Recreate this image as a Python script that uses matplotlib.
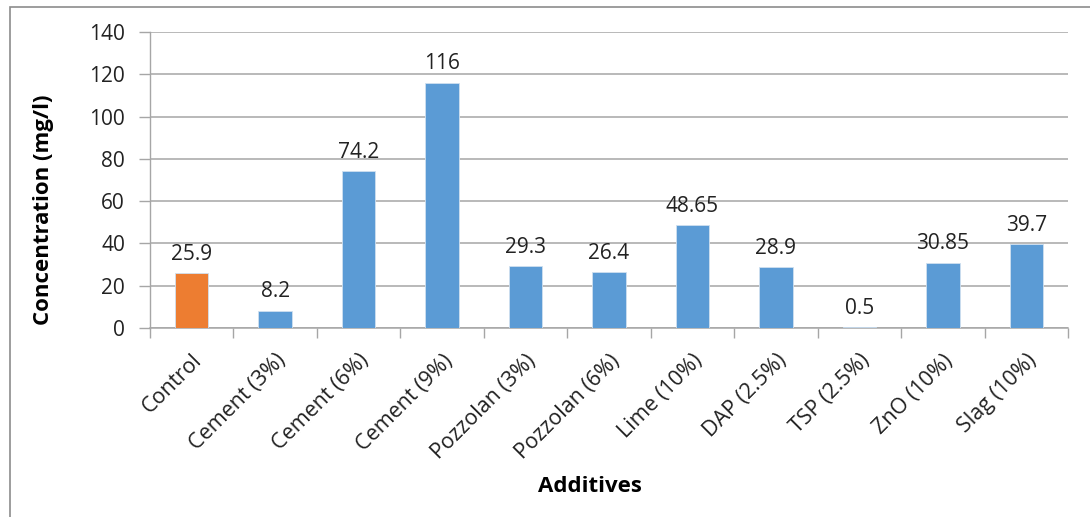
import matplotlib.pyplot as plt
from matplotlib.patches import Rectangle

# concentrations per additive treatment
additives = ['Control', 'Cement (3%)', 'Cement (6%)', 'Cement (9%)', 'Pozzolan (3%)',
             'Pozzolan (6%)', 'Lime (10%)', 'DAP (2.5%)', 'TSP (2.5%)', 'ZnO (10%)', 'Slag (10%)']
concentration = [25.9, 8.2, 74.2, 116, 29.3, 26.4, 48.65, 28.9, 0.5, 30.85, 39.7]
value_labels = ['25.9', '8.2', '74.2', '116', '29.3', '26.4', '48.65', '28.9', '0.5', '30.85', '39.7']
y_ticks = [0, 20, 40, 60, 80, 100, 120, 140]

plt.rcParams['font.family'] = ['Open Sans', 'DejaVu Sans']

fig = plt.figure(figsize=(10.9, 5.17), dpi=100)
ax = fig.add_axes([150 / 1090, 1 - 328 / 517, (1068 - 150) / 1090, (328 - 32) / 517])

colors = ['#ED7D31'] + ['#5B9BD5'] * (len(additives) - 1)
x = list(range(len(additives)))
bars = ax.bar(x, concentration, width=0.4, color=colors, edgecolor='#cfe0f0', linewidth=0.6, zorder=3)

for xi, val, lab in zip(x, concentration, value_labels):
    ax.annotate(lab, (xi, val), xytext=(0, 6), textcoords='offset points',
                ha='center', va='bottom', fontsize=15, color='#222222')

ax.set_xlim(-0.5, len(additives) - 0.5)
ax.set_ylim(0, 140)
ax.set_yticks(y_ticks)
ax.tick_params(axis='y', length=8, width=1, color='#a6a6a6', labelsize=15, labelcolor='#222222', pad=10)
ax.yaxis.grid(True, color='#a6a6a6', linewidth=1.1, zorder=0)
ax.set_axisbelow(True)

# category ticks sit between bars
ax.set_xticks([i - 0.5 for i in range(len(additives) + 1)], minor=True)
ax.set_xticks(x)
ax.set_xticklabels(additives, rotation=45, ha='right', va='top', rotation_mode='anchor',
                   fontsize=15.5, color='#222222')
ax.tick_params(axis='x', which='major', length=0, pad=16)
ax.tick_params(axis='x', which='minor', length=7, width=1, color='#a6a6a6')

for side in ['top', 'right']:
    ax.spines[side].set_visible(False)
ax.spines['left'].set_color('#a6a6a6')
ax.spines['bottom'].set_color('#a6a6a6')
ax.spines['left'].set_linewidth(1)
ax.spines['bottom'].set_linewidth(1.1)

fig.text(44 / 1090, 1 - 210 / 517, 'Concentration (mg/l)', rotation=90, ha='center', va='center',
         fontsize=16, fontweight='bold')
fig.text(590 / 1090, 1 - 486 / 517, 'Additives', ha='center', va='center',
         fontsize=16, fontweight='bold')

# outer chart frame
fig.patches.append(Rectangle((10 / 1090, -0.1), 1.2, 1 - 7 / 517 + 0.1, transform=fig.transFigure,
                             fill=False, edgecolor='#8c8c8c', linewidth=1.2))

fig.savefig('out.png', dpi=100)
